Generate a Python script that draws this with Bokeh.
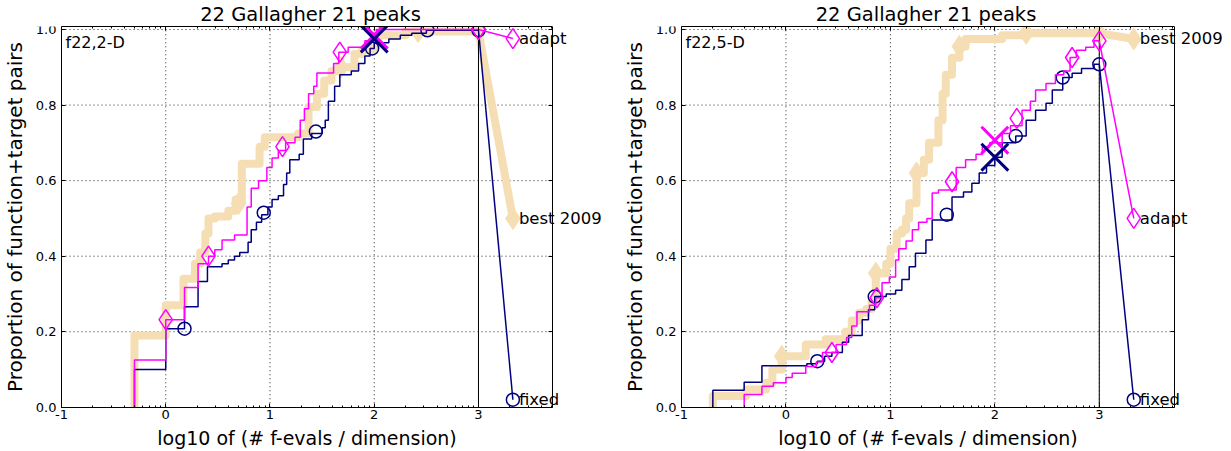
import math
from bokeh.plotting import figure
from bokeh.layouts import row
from bokeh.models import FixedTicker, LinearAxis, Range1d, Label
from bokeh.embed import file_html
from bokeh.resources import INLINE

FONT = "DejaVu Sans"
WHEAT = "#F5DEB3"
MAGENTA = "#FF00FF"
NAVY = "#000080"

title_text = "22 Gallagher 21 peaks"
x_label = "log10 of (# f-evals / dimension)"
y_label = "Proportion of function+target pairs"
x_ticks = [-1, 0, 1, 2, 3]
x_tick_labels = ["-1", "0", "1", "2", "3"]
y_ticks = [0.0, 0.2, 0.4, 0.6, 0.8, 1.0]
y_tick_labels = ["0.0", "0.2", "0.4", "0.6", "0.8", "1.0"]
series_names = ["best 2009", "adapt", "fixed"]
budget_x = 3.0
label_x = 3.33
x_ref = 2.0
y_top = 1.008

# ---------------- 2-D panel ----------------
d2_name = "f22,2-D"
d2_best_x = [-0.30, 0.00, 0.17, 0.28, 0.33, 0.38, 0.41, 0.47, 0.60, 0.67, 0.73, 0.90, 0.95,
             1.27, 1.37, 1.45, 1.52, 1.59, 1.69, 1.81, 1.88, 2.00, 2.04, 2.30]
d2_best_y = [0.19, 0.27, 0.34, 0.38, 0.41, 0.46, 0.50, 0.505, 0.52, 0.55, 0.645, 0.69, 0.715,
             0.725, 0.795, 0.83, 0.865, 0.89, 0.90, 0.935, 0.945, 0.97, 0.985, 0.995]
d2_best_mx = [0.70, 1.68, 2.42, 3.0]
d2_best_my = [0.54, 0.90, 0.995, 0.995]
d2_best_end = 0.50

d2_adapt_x = [-0.30, 0.00, 0.18, 0.31, 0.41, 0.47, 0.54, 0.66, 0.78, 0.82, 0.89, 0.97, 1.02,
              1.08, 1.15, 1.24, 1.29, 1.33, 1.37, 1.42, 1.45, 1.61, 1.66, 1.75, 1.91, 1.98, 2.02]
d2_adapt_y = [0.125, 0.232, 0.317, 0.38, 0.40, 0.417, 0.443, 0.456, 0.53, 0.58, 0.60, 0.635, 0.66,
              0.68, 0.70, 0.715, 0.76, 0.79, 0.83, 0.85, 0.885, 0.91, 0.94, 0.953, 0.97, 0.99, 1.0]
d2_adapt_mx = [0.00, 0.41, 1.12, 1.67, 2.00, 3.00]
d2_adapt_my = [0.232, 0.40, 0.69, 0.94, 1.0, 1.0]
d2_adapt_end = 0.976
d2_adapt_ref = 0.985

d2_fixed_x = [-0.30, 0.00, 0.18, 0.31, 0.40, 0.54, 0.60, 0.66, 0.71, 0.79, 0.82, 0.87, 0.92,
              0.98, 1.02, 1.08, 1.13, 1.16, 1.19, 1.28, 1.32, 1.40, 1.50, 1.53, 1.56, 1.62,
              1.67, 1.78, 1.85, 1.91, 1.96, 2.00, 2.14, 2.25, 2.36, 2.50]
d2_fixed_y = [0.10, 0.208, 0.266, 0.333, 0.372, 0.38, 0.39, 0.40, 0.41, 0.437, 0.47, 0.49, 0.51,
              0.53, 0.55, 0.56, 0.59, 0.62, 0.655, 0.67, 0.71, 0.725, 0.74, 0.76, 0.81, 0.85,
              0.88, 0.89, 0.91, 0.93, 0.95, 0.965, 0.975, 0.985, 0.99, 0.998]
d2_fixed_mx = [0.18, 0.94, 1.44, 1.98, 2.51, 3.00]
d2_fixed_my = [0.208, 0.515, 0.73, 0.95, 0.998, 0.998]
d2_fixed_end = 0.02
d2_fixed_ref = 0.975
d2_xmax = 3.71

# ---------------- 5-D panel ----------------
d5_name = "f22,5-D"
d5_best_x = [-0.70, -0.38, -0.19, -0.13, -0.04, 0.19, 0.38, 0.57, 0.63, 0.70, 0.77, 0.82, 0.86,
             0.96, 1.00, 1.06, 1.11, 1.15, 1.18, 1.25, 1.32, 1.37, 1.46, 1.50, 1.53, 1.59,
             1.66, 1.72, 2.07, 2.30]
d5_best_y = [0.03, 0.047, 0.065, 0.10, 0.135, 0.166, 0.18, 0.20, 0.23, 0.25, 0.26, 0.28, 0.355,
             0.38, 0.42, 0.46, 0.47, 0.50, 0.54, 0.62, 0.655, 0.70, 0.76, 0.83, 0.88, 0.925,
             0.955, 0.975, 0.985, 0.99]
d5_best_mx = [-0.04, 0.86, 1.25, 1.66, 2.30, 3.00]
d5_best_my = [0.135, 0.355, 0.62, 0.955, 0.99, 0.99]
d5_best_end = 0.975

d5_adapt_x = [-0.40, -0.23, -0.12, 0.00, 0.06, 0.19, 0.29, 0.35, 0.48, 0.58, 0.63, 0.68, 0.80,
              0.86, 0.92, 0.99, 1.05, 1.08, 1.15, 1.21, 1.27, 1.35, 1.40, 1.46, 1.63, 1.72,
              1.82, 1.88, 1.95, 2.07, 2.15, 2.26, 2.34, 2.39, 2.49, 2.58, 2.66, 2.72, 2.78,
              2.87, 2.95]
d5_adapt_y = [0.034, 0.056, 0.065, 0.079, 0.09, 0.108, 0.12, 0.145, 0.166, 0.185, 0.215, 0.253,
              0.27, 0.29, 0.33, 0.345, 0.39, 0.42, 0.44, 0.47, 0.49, 0.50, 0.567, 0.575, 0.635,
              0.655, 0.67, 0.69, 0.70, 0.725, 0.745, 0.786, 0.81, 0.84, 0.857, 0.88, 0.89,
              0.926, 0.945, 0.953, 0.97]
d5_adapt_mx = [0.44, 0.87, 1.59, 2.21, 2.74, 3.00]
d5_adapt_my = [0.145, 0.29, 0.597, 0.765, 0.926, 0.97]
d5_adapt_end = 0.50
d5_adapt_ref = 0.707

d5_fixed_x = [-0.70, -0.40, -0.23, 0.20, 0.30, 0.37, 0.44, 0.54, 0.60, 0.73, 0.79, 0.85, 0.96,
              1.05, 1.11, 1.18, 1.24, 1.34, 1.40, 1.59, 1.70, 1.78, 1.85, 1.92, 2.00, 2.07,
              2.20, 2.30, 2.39, 2.49, 2.55, 2.65, 2.74, 2.83, 2.95]
d5_fixed_y = [0.045, 0.066, 0.11, 0.115, 0.122, 0.135, 0.145, 0.172, 0.19, 0.232, 0.258, 0.293,
              0.30, 0.31, 0.338, 0.372, 0.408, 0.443, 0.496, 0.557, 0.57, 0.593, 0.62, 0.64,
              0.662, 0.70, 0.718, 0.76, 0.786, 0.805, 0.84, 0.873, 0.884, 0.897, 0.908]
d5_fixed_mx = [0.30, 0.85, 1.54, 2.20, 2.65, 3.00]
d5_fixed_my = [0.122, 0.293, 0.51, 0.718, 0.873, 0.908]
d5_fixed_end = 0.02
d5_fixed_ref = 0.662
d5_xmax = 3.72

FIG_H = 450
TOP_BORDER = 28        # space taken by the title panel + top tick axis
BOTTOM_BORDER = 0
AXES_H = 379           # pixel height from y=0 to y=y_top


def step_pts(xs, ys, x_end):
    return [xs[0]] + list(xs) + [x_end], [0.0] + list(ys) + [ys[-1]]


def make_panel(name, xmax, best, adapt, fixed, width, br, ext_left, axes_w):
    # the Bokeh frame is larger than the drawn axes box so that tick labels,
    # axis labels and the end-of-line labels can sit inside it
    frame_w = width - br
    s = axes_w / (xmax + 1)
    x_low = -1 - ext_left / s
    x_ext = -1 + (frame_w - ext_left) / s
    frame_h = FIG_H - TOP_BORDER - BOTTOM_BORDER
    y_low = y_top - frame_h * y_top / AXES_H

    p = figure(width=width, height=FIG_H, output_backend="svg", toolbar_location=None,
               x_range=Range1d(x_low, x_ext), y_range=Range1d(y_low, y_top),
               min_border_left=0, min_border_right=br, min_border_top=0,
               min_border_bottom=BOTTOM_BORDER)
    p.background_fill_color = "white"
    p.border_fill_color = "white"
    p.outline_line_color = None
    p.xgrid.visible = False
    p.ygrid.visible = False

    p.title.text = title_text
    p.title.align = "center"
    p.title.text_font = FONT
    p.title.text_font_size = "19.5px"
    p.title.text_font_style = "normal"
    p.title.text_color = "black"
    p.title.standoff = 1
    p.title.offset = ext_left + axes_w / 2 - frame_w / 2

    minor = [n + math.log10(k) for n in range(-1, 4) for k in range(2, 10)
             if n + math.log10(k) < xmax]

    xa = p.xaxis[0]
    xa.ticker = FixedTicker(ticks=x_ticks, minor_ticks=minor)
    xa.major_label_overrides = {t: l for t, l in zip(x_ticks, x_tick_labels)}
    xa.fixed_location = 0
    xa.bounds = (-1, xmax)
    ya = p.yaxis[0]
    ya.ticker = FixedTicker(ticks=y_ticks, minor_ticks=[])
    ya.major_label_overrides = {t: l for t, l in zip(y_ticks, y_tick_labels)}
    ya.axis_label = y_label
    ya.fixed_location = -1
    ya.bounds = (0, y_top)
    for ax in (xa, ya):
        ax.axis_label_text_font = FONT
        ax.axis_label_text_font_size = "20px"
        ax.axis_label_text_font_style = "normal"
        ax.axis_label_text_color = "black"
        ax.major_label_text_font = FONT
        ax.major_label_text_font_size = "13px"
        ax.major_label_text_color = "black"
        ax.major_tick_in = 4
        ax.major_tick_out = 0
        ax.minor_tick_in = 2
        ax.minor_tick_out = 0
        ax.axis_line_color = "black"
        ax.major_tick_line_color = "black"
        ax.minor_tick_line_color = "black"
    xa.major_label_standoff = 3
    ya.major_label_standoff = 5
    ya.axis_label_standoff = 6

    top = LinearAxis(ticker=FixedTicker(ticks=x_ticks, minor_ticks=minor),
                     bounds=(-1, xmax), major_label_text_font_size="0px",
                     major_label_standoff=0, major_tick_in=4, major_tick_out=0,
                     minor_tick_in=2, minor_tick_out=0, axis_line_color="black",
                     major_tick_line_color="black", minor_tick_line_color="black",
                     major_label_text_color=None)
    p.add_layout(top, "above")
    right = LinearAxis(ticker=FixedTicker(ticks=y_ticks, minor_ticks=[]),
                       bounds=(0, y_top), fixed_location=xmax,
                       major_label_text_font_size="0px",
                       major_label_standoff=0, major_tick_in=4, major_tick_out=0,
                       minor_tick_in=0, minor_tick_out=0, axis_line_color="black",
                       major_tick_line_color="black", major_label_text_color=None)
    p.add_layout(right, "right")

    # dotted grid inside the axes box
    gx = x_ticks[1:]
    p.segment(x0=gx, y0=[0] * len(gx), x1=gx, y1=[y_top] * len(gx),
              line_color="black", line_alpha=0.85, line_dash="1 3", line_width=1)
    gy = y_ticks[1:]
    p.segment(x0=[-1] * len(gy), y0=gy, x1=[xmax] * len(gy), y1=gy,
              line_color="black", line_alpha=0.85, line_dash="1 3", line_width=1)

    bx, by, bmx, bmy, bend = best
    ax_, ay_, amx, amy, aend, aref = adapt
    fx, fy, fmx, fmy, fend, fref = fixed

    # best 2009 (thick wheat)
    sx, sy = step_pts(bx, by, budget_x)
    p.step(sx, sy, mode="after", line_color=WHEAT, line_width=8, line_join="round")
    p.line([budget_x, label_x], [by[-1], bend], line_color=WHEAT, line_width=8,
           line_join="round", line_cap="round")
    p.scatter(bmx + [label_x], bmy + [bend], marker="diamond", size=22,
              fill_color=WHEAT, line_color=WHEAT)

    # budget line
    p.line([budget_x, budget_x], [0, 1], line_color="black", line_width=1)

    # fixed (navy)
    sx, sy = step_pts(fx, fy, budget_x)
    p.step(sx, sy, mode="after", line_color=NAVY, line_width=1.5)
    p.line([budget_x, label_x], [fy[-1], fend], line_color=NAVY, line_width=1.5)
    p.scatter(fmx + [label_x], fmy + [fend], marker="circle", size=13,
              fill_color=None, line_color=NAVY, line_width=1.5)

    # adapt (magenta)
    sx, sy = step_pts(ax_, ay_, budget_x)
    p.step(sx, sy, mode="after", line_color=MAGENTA, line_width=1.5)
    p.line([budget_x, label_x], [ay_[-1], aend], line_color=MAGENTA, line_width=1.5)
    p.scatter(amx + [label_x], amy + [aend], marker="diamond", size=20,
              fill_color=None, line_color=MAGENTA, line_width=1.5)

    # reference crosses
    p.scatter([x_ref], [aref], marker="x", size=38, line_color=MAGENTA, line_width=3)
    p.scatter([x_ref], [fref], marker="x", size=38, line_color=NAVY, line_width=3)

    for nm, yy in zip(series_names, [bend, aend, fend]):
        p.add_layout(Label(x=label_x, y=yy, x_offset=6, text=nm,
                           text_baseline="middle", text_font=FONT,
                           text_font_size="16.5px", text_color="black"))
    p.add_layout(Label(x=-1, y=y_top, x_offset=4, y_offset=-6, text=name,
                       text_baseline="top", text_font=FONT, text_font_size="16px",
                       text_color="black"))
    p.add_layout(Label(x=(-1 + xmax) / 2, y=0, y_offset=-31, text=x_label,
                       text_align="center", text_baseline="alphabetic", text_font=FONT,
                       text_font_size="19px", text_color="black"))
    return p


p1 = make_panel(d2_name, d2_xmax,
                (d2_best_x, d2_best_y, d2_best_mx, d2_best_my, d2_best_end),
                (d2_adapt_x, d2_adapt_y, d2_adapt_mx, d2_adapt_my, d2_adapt_end, d2_adapt_ref),
                (d2_fixed_x, d2_fixed_y, d2_fixed_mx, d2_fixed_my, d2_fixed_end, d2_fixed_ref),
                620, 0, 61, 491)
p2 = make_panel(d5_name, d5_xmax,
                (d5_best_x, d5_best_y, d5_best_mx, d5_best_my, d5_best_end),
                (d5_adapt_x, d5_adapt_y, d5_adapt_mx, d5_adapt_my, d5_adapt_end, d5_adapt_ref),
                (d5_fixed_x, d5_fixed_y, d5_fixed_mx, d5_fixed_my, d5_fixed_end, d5_fixed_ref),
                611, 0, 61, 493)

layout = row(p1, p2)
open("out.html", "w").write(file_html(layout, INLINE))
